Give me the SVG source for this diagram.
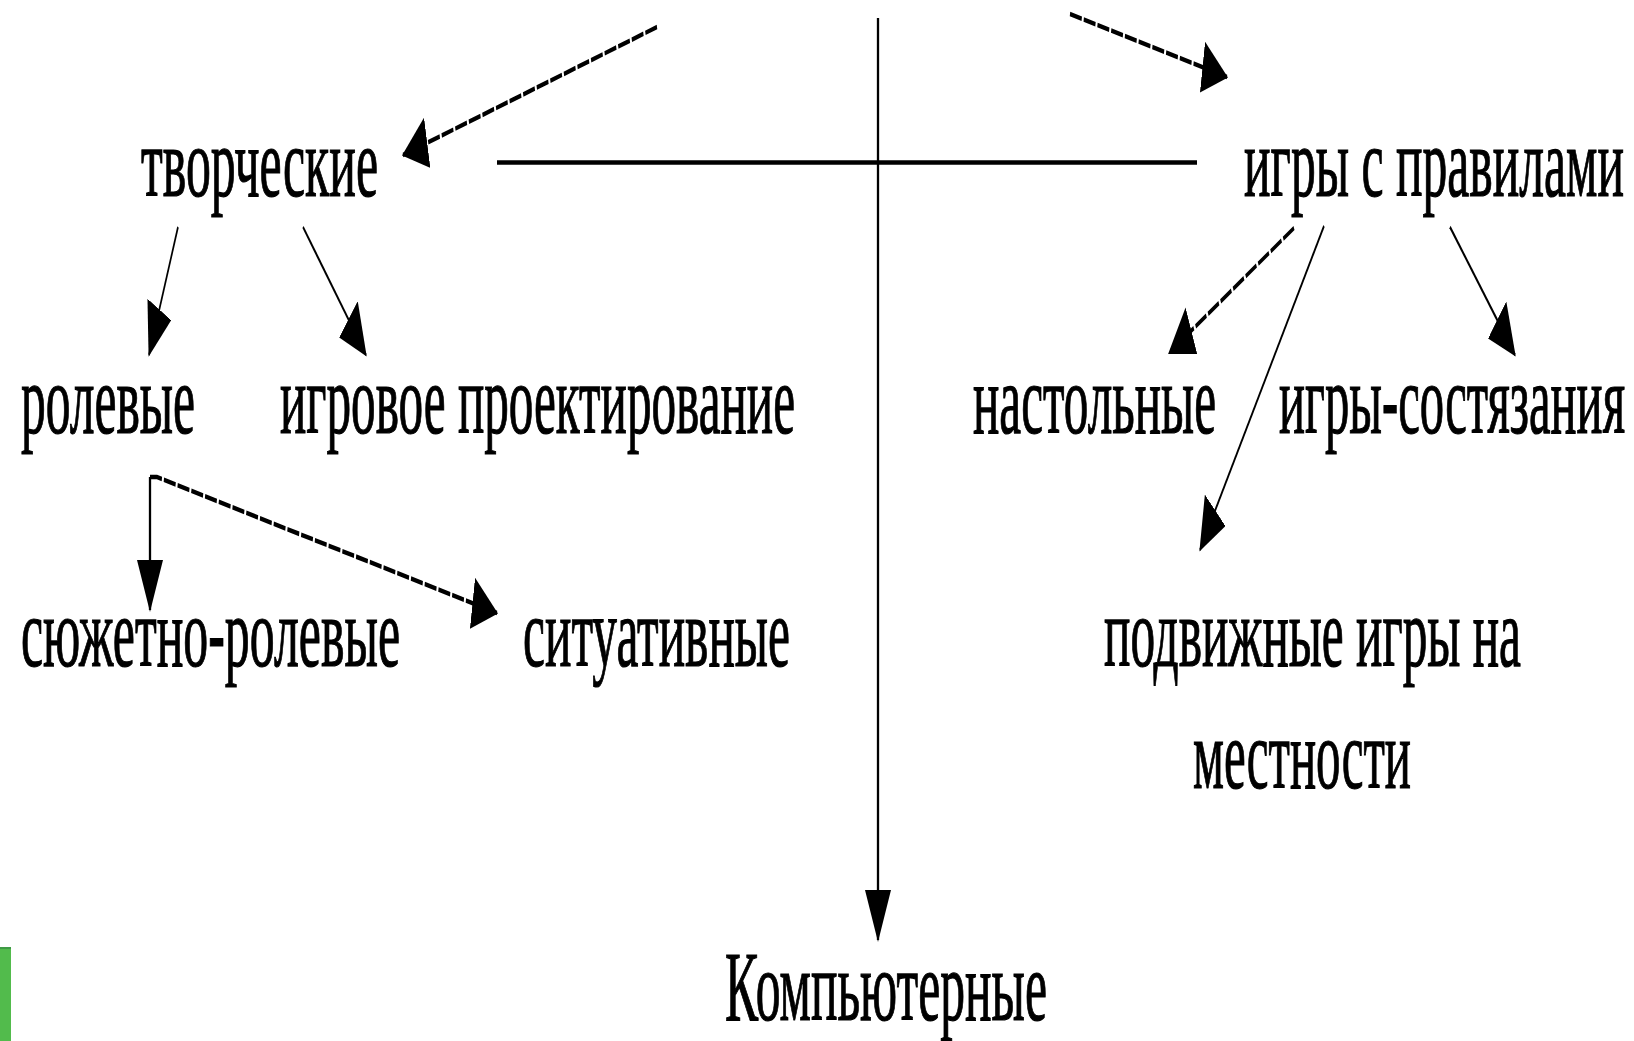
<svg xmlns="http://www.w3.org/2000/svg" width="1634" height="1041" viewBox="0 0 1634 1041">
  <style>
    .lbl { font-family: "Liberation Serif", "DejaVu Serif", serif; font-size: 100px; fill: #000; stroke: #000; stroke-width: 1.2; }
    .ln { fill: none; stroke: #000; stroke-width: 2.3; }
    .thin { stroke-width: 1.6; }
    .dash { stroke-dasharray: 12 2; }
  </style>
  <defs>
    <marker id="ah" viewBox="0 0 26 26" markerWidth="26" markerHeight="26" markerUnits="userSpaceOnUse" refX="25" refY="13" orient="auto">
      <path d="M0,0 L26,13 L0,26 z" fill="#000"/>
    </marker>
  </defs>
  <rect width="1634" height="1041" fill="#fff"/>

  <g id="connectors" transform="scale(1,2)">
    <line class="ln" x1="497" y1="81.25" x2="1197" y2="81.25"/>
    <line class="ln" x1="878" y1="9" x2="878" y2="470" marker-end="url(#ah)"/>
    <line class="ln dash" x1="657" y1="13.5" x2="403" y2="77.5" marker-end="url(#ah)"/>
    <line class="ln dash" x1="1070" y1="7" x2="1227" y2="38.5" marker-end="url(#ah)"/>
    <line class="ln thin" x1="178" y1="113.5" x2="149" y2="177.5" marker-end="url(#ah)"/>
    <line class="ln thin" x1="303" y1="113.5" x2="366" y2="177.5" marker-end="url(#ah)"/>
    <line class="ln dash" x1="1294" y1="114" x2="1169" y2="176.5" marker-end="url(#ah)"/>
    <line class="ln thin" x1="1324" y1="113" x2="1200" y2="275" marker-end="url(#ah)"/>
    <line class="ln thin" x1="1450" y1="113.5" x2="1515" y2="177.5" marker-end="url(#ah)"/>
    <line class="ln" x1="150" y1="238.5" x2="150" y2="305" marker-end="url(#ah)"/>
    <path class="ln dash" d="M150 238.5 H157 L497 306.5" marker-end="url(#ah)"/>
  </g>

  <g id="n-tvorcheskie"><text class="lbl" x="141" y="196" textLength="237" lengthAdjust="spacingAndGlyphs">творческие</text></g>
  <g id="n-pravila"><text class="lbl" x="1244" y="196" textLength="380" lengthAdjust="spacingAndGlyphs">игры с правилами</text></g>
  <g id="n-rolevye"><text class="lbl" x="21" y="433" textLength="174" lengthAdjust="spacingAndGlyphs">ролевые</text></g>
  <g id="n-proektirovanie"><text class="lbl" x="280" y="433" textLength="515" lengthAdjust="spacingAndGlyphs">игровое проектирование</text></g>
  <g id="n-nastolnye"><text class="lbl" x="973" y="433" textLength="243" lengthAdjust="spacingAndGlyphs">настольные</text></g>
  <g id="n-sostyazaniya"><text class="lbl" x="1279" y="433" textLength="346" lengthAdjust="spacingAndGlyphs">игры-состязания</text></g>
  <g id="n-syuzhetno"><text class="lbl" x="21" y="666" textLength="379" lengthAdjust="spacingAndGlyphs">сюжетно-ролевые</text></g>
  <g id="n-situativnye"><text class="lbl" x="523" y="666" textLength="267" lengthAdjust="spacingAndGlyphs">ситуативные</text></g>
  <g id="n-podvizhnye">
    <text class="lbl" x="1104" y="666" textLength="417" lengthAdjust="spacingAndGlyphs">подвижные игры на</text>
    <text class="lbl" x="1193" y="788" textLength="218" lengthAdjust="spacingAndGlyphs">местности</text>
  </g>
  <g id="n-kompyuternye"><text class="lbl" x="725" y="1020" textLength="322" lengthAdjust="spacingAndGlyphs">Компьютерные</text></g>

  <rect x="0" y="947" width="11" height="94" fill="#52bb4c"/>
  <rect x="0" y="947" width="11" height="2" fill="#3f9a45"/>
</svg>
